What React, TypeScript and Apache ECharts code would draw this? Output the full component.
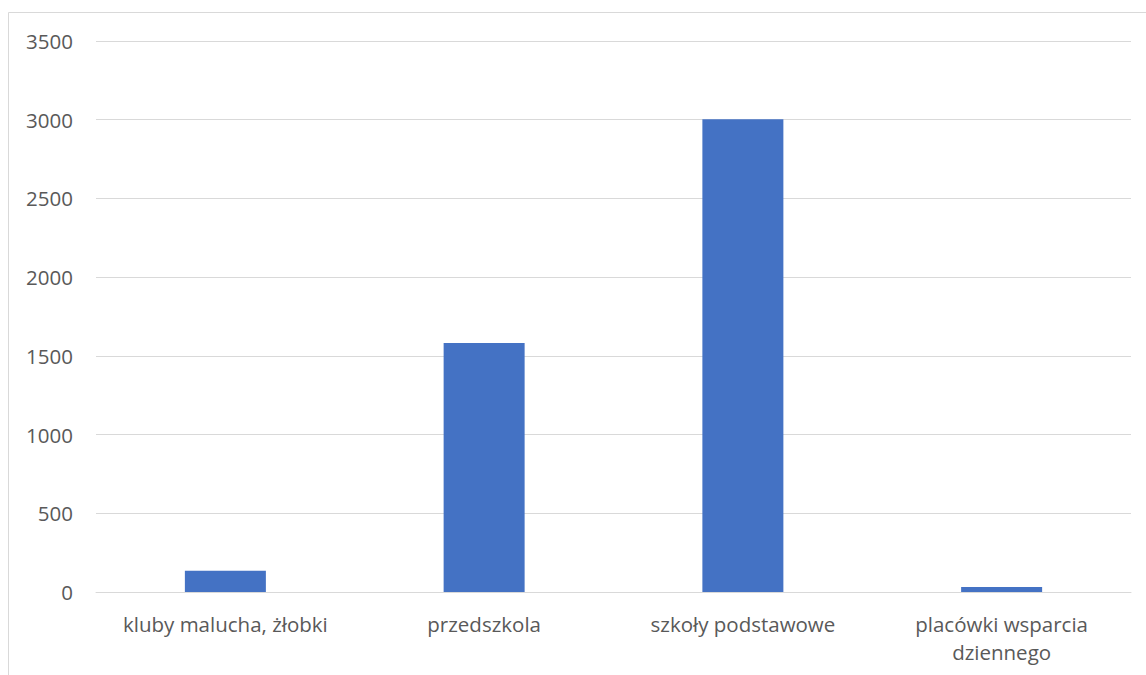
import React, { useEffect, useRef } from "react";
import * as echarts from "echarts";

const categories = ["kluby malucha, żłobki", "przedszkola", "szkoły podstawowe", "placówki wsparcia\ndziennego"];
const values = [135, 1582, 3003, 32];
const yTicks = [0, 500, 1000, 1500, 2000, 2500, 3000, 3500];

export default function App() {
  const ref = useRef<HTMLDivElement>(null);
  useEffect(() => {
    const chart = echarts.init(ref.current!, null, { renderer: "svg" });
    chart.setOption({
      animation: false,
      backgroundColor: "#ffffff",
      textStyle: { fontFamily: "Open Sans" },
      graphic: [
        {
          type: "rect",
          shape: { x: 8.5, y: 12.5, width: 1200, height: 700 },
          style: { fill: "none", stroke: "#d9d9d9", lineWidth: 1 },
          silent: true,
        },
      ],
      grid: { left: 96, right: 15, top: 41, bottom: 83, containLabel: false },
      xAxis: {
        type: "category",
        data: categories,
        axisLine: { show: true, lineStyle: { color: "#d9d9d9", width: 1 } },
        axisTick: { show: false },
        axisLabel: { color: "#595959", fontSize: 20.5, margin: 18, lineHeight: 28, interval: 0 },
      },
      yAxis: {
        type: "value",
        min: yTicks[0],
        max: yTicks[yTicks.length - 1],
        interval: 500,
        axisLine: { show: false },
        axisTick: { show: false },
        axisLabel: { color: "#595959", fontSize: 20.5, margin: 23, formatter: (v: number) => String(v) },
        splitLine: { lineStyle: { color: "#d9d9d9", width: 1 } },
      },
      series: [
        {
          type: "bar",
          data: values,
          barWidth: 81,
          itemStyle: { color: "#4472c4" },
        },
      ],
    });
    return () => chart.dispose();
  }, []);
  return <div ref={ref} style={{ position: "fixed", left: 0, top: 0, width: 1146, height: 675 }} />;
}
